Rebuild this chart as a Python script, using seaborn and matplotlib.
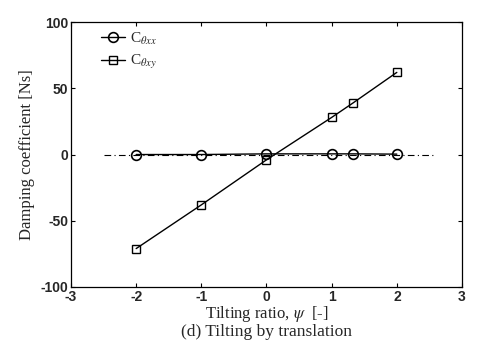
import matplotlib
matplotlib.use("Agg")
import matplotlib.pyplot as plt
import seaborn as sns
import pandas as pd

sns.set_theme(style="ticks")
plt.rcParams['font.family'] = ['Liberation Serif', 'DejaVu Serif']
plt.rcParams['mathtext.fontset'] = 'stix'

psi = [-2, -1, 0, 1, 1.33, 2]
c_theta_xx = [0, 0, 0.5, 0.5, 0.5, 0.3]
c_theta_xy = [-71, -38, -4, 28, 39, 62]
ref_x = [-2.5, 2.6]
ref_y = [0, 0]

xticks = [-3, -2, -1, 0, 1, 2, 3]
yticks = [-100, -50, 0, 50, 100]

df_xx = pd.DataFrame({"psi": psi, "val": c_theta_xx})
df_xy = pd.DataFrame({"psi": psi, "val": c_theta_xy})

fig = plt.figure(figsize=(4.78, 3.5), dpi=100)
ax = fig.add_axes([0.1485, 0.18, 0.818, 0.757])

ax.plot(ref_x, ref_y, color="black", lw=0.8, ls=(0, (6, 3, 1, 3)), zorder=1)
sns.lineplot(data=df_xx, x="psi", y="val", ax=ax, color="black", lw=1.0,
             marker="o", markersize=7, markerfacecolor="none",
             markeredgecolor="black", markeredgewidth=1.2,
             label=r"C$_{\theta xx}$", zorder=3)
sns.lineplot(data=df_xy, x="psi", y="val", ax=ax, color="black", lw=1.0,
             marker="s", markersize=5.5, markerfacecolor="none",
             markeredgecolor="black", markeredgewidth=1.0,
             label=r"C$_{\theta xy}$", zorder=3)

ax.set_xlim(-3, 3)
ax.set_ylim(-100, 100)
ax.set_xticks(xticks)
ax.set_yticks(yticks)
ax.set_xticklabels([str(t) for t in xticks], family="Liberation Sans", fontweight="bold", fontsize=10)
ax.set_yticklabels([str(t) for t in yticks], family="Liberation Sans", fontweight="bold", fontsize=10)
ax.tick_params(direction="in", top=True, right=True, length=3, width=0.8, color="black")
ax.tick_params(axis="x", pad=2.5)
ax.tick_params(axis="y", pad=2)
for s in ax.spines.values():
    s.set_color("black")
    s.set_linewidth(0.9)

ax.set_xlabel(r"Tilting ratio, $\psi$  [-]", fontsize=12, labelpad=0)
ax.set_ylabel("Damping coefficient [Ns]", fontsize=12, labelpad=4)
fig.text(0.5574, 0.052, "(d) Tilting by translation", ha="center", va="center", fontsize=12.5)

leg = ax.legend(loc="upper left", frameon=False, fontsize=11, handlelength=1.6,
                handletextpad=0.3, labelspacing=0.4, borderaxespad=0.0,
                bbox_to_anchor=(0.06, 0.99))

fig.savefig("out.png", dpi=100)
